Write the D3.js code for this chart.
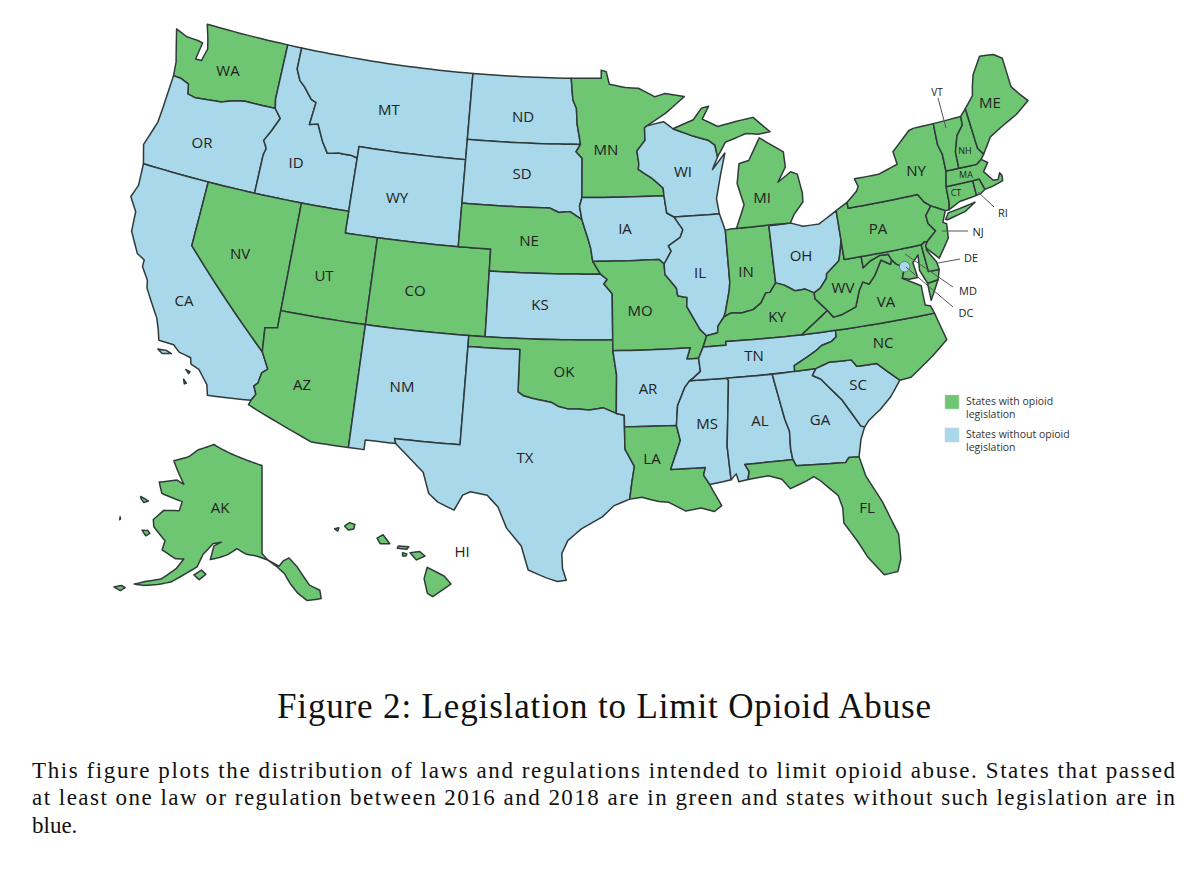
<!DOCTYPE html>
<html><head><meta charset="utf-8">
<script src="https://cdn.jsdelivr.net/npm/d3@7/dist/d3.min.js"></script>
<style>html,body{margin:0;padding:0;background:#fff}svg{display:block}</style></head>
<body><svg id="c" width="1200" height="875"></svg>
<script>
// Legislation status
const withLegislation=["WA","NV","UT","CO","AZ","NE","OK","MN","MO","LA","IN","KY","WV","VA","NC","PA","NY","VT","NH","ME","MA","CT","RI","NJ","DE","MD","MI","FL","AK","HI"];
const withoutLegislation=["OR","CA","ID","MT","WY","ND","SD","KS","NM","TX","IA","WI","IL","OH","AR","TN","MS","AL","GA","SC"];
const legendLabels=[["States with opioid","legislation"],["States without opioid","legislation"]];
const titleText="Figure 2: Legislation to Limit Opioid Abuse";
const captionLines=["This figure plots the distribution of laws and regulations intended to limit opioid abuse. States that passed","at least one law or regulation between 2016 and 2018 are in green and states without such legislation are in","blue."];
const dcLocation=[-77.03,38.9];

// Geographic outlines: longitude, latitude rings
const WA=[[[-124.0,46.27],[-124.1,46.9],[-124.4,47.6],[-124.73,48.38],[-123.9,48.17],[-123.1,48.15],[-122.75,48.1],[-122.9,47.3],[-122.5,47.3],[-122.3,47.9],[-122.5,48.4],[-122.8,49],[-117.04,49],[-117.04,46.42],[-116.92,46],[-118.98,46],[-119.6,45.92],[-120.5,45.7],[-121.2,45.65],[-122.2,45.57],[-122.75,45.65],[-122.9,46.1],[-123.5,46.25]]];
const OR=[[[-124.0,46.27],[-123.5,46.25],[-122.9,46.1],[-122.75,45.65],[-122.2,45.57],[-121.2,45.65],[-120.5,45.7],[-119.6,45.92],[-118.98,46],[-116.92,46],[-116.46,45.6],[-116.85,44.95],[-117.2,44.45],[-117.03,44.25],[-116.93,44.1],[-117.03,43.8],[-117.03,42],[-124.2,42],[-124.55,42.85],[-124.1,44],[-124.05,44.8]]];
const CA=[[[-124.2,42],[-120,42],[-120,39],[-114.63,35],[-114.14,34.27],[-114.43,34.05],[-114.53,33.55],[-114.72,33.4],[-114.52,33.03],[-114.72,32.72],[-117.12,32.53],[-117.28,33],[-117.9,33.6],[-118.4,33.75],[-118.5,34.03],[-119.2,34.15],[-119.6,34.42],[-120.47,34.45],[-120.65,34.9],[-120.9,35.4],[-121.9,36.6],[-122,36.95],[-122.5,37.5],[-122.5,37.8],[-123,38],[-123.7,38.9],[-123.8,39.8],[-124.35,40.4],[-124.1,41]],[[-120.4,34.05],[-119.9,34.08],[-119.6,34.0],[-120.1,33.9]],[[-118.6,33.45],[-118.35,33.4],[-118.4,33.3]],[[-118.6,33.0],[-118.4,32.85],[-118.5,32.8]]];
const ID=[[[-117.04,49],[-116.05,49],[-116.05,48],[-115.7,47.5],[-115.3,47.25],[-114.7,46.75],[-114.35,46.65],[-114.5,45.6],[-113.95,45.7],[-113.45,44.95],[-113,44.45],[-112.3,44.55],[-111.5,44.55],[-111.05,44.47],[-111.05,42],[-117.03,42],[-117.03,43.8],[-116.93,44.1],[-117.03,44.25],[-117.2,44.45],[-116.85,44.95],[-116.46,45.6],[-116.92,46],[-117.04,46.42]]];
const NV=[[[-120,42],[-114.04,42],[-114.04,36.2],[-114.75,36.1],[-114.63,35],[-120,39]]];
const MT=[[[-116.05,49],[-104.05,49],[-104.05,45],[-111.05,45],[-111.05,44.47],[-111.5,44.55],[-112.3,44.55],[-113,44.45],[-113.45,44.95],[-113.95,45.7],[-114.5,45.6],[-114.35,46.65],[-114.7,46.75],[-115.3,47.25],[-115.7,47.5],[-116.05,48]]];
const WY=[[[-111.05,45],[-104.05,45],[-104.05,41],[-111.05,41]]];
const UT=[[[-114.04,42],[-111.05,42],[-111.05,41],[-109.05,41],[-109.05,37],[-114.04,37]]];
const CO=[[[-109.05,41],[-102.05,41],[-102.05,37],[-109.05,37]]];
const AZ=[[[-114.04,37],[-109.05,37],[-109.05,31.33],[-111.07,31.33],[-114.81,32.5],[-114.72,32.72],[-114.52,33.03],[-114.72,33.4],[-114.53,33.55],[-114.43,34.05],[-114.14,34.27],[-114.63,35],[-114.75,36.1],[-114.04,36.2]]];
const NM=[[[-109.05,37],[-103,37],[-103.04,32],[-106.62,32],[-106.53,31.78],[-108.2,31.78],[-108.2,31.33],[-109.05,31.33]]];
const ND=[[[-104.05,49],[-97.23,49],[-97.1,48],[-96.85,47.6],[-96.8,46.9],[-96.56,45.94],[-104.05,45.94]]];
const SD=[[[-104.05,45.94],[-96.56,45.94],[-96.85,45.6],[-96.45,45.3],[-96.45,43.5],[-96.6,43.1],[-96.45,42.49],[-97.2,42.85],[-97.9,42.8],[-98.5,43],[-104.05,43]]];
const NE=[[[-104.05,43],[-98.5,43],[-97.9,42.8],[-97.2,42.85],[-96.45,42.49],[-96.1,41.7],[-95.9,41.2],[-95.77,40.58],[-95.3,40],[-102.05,40],[-102.05,41],[-104.05,41]]];
const KS=[[[-102.05,40],[-95.3,40],[-94.9,39.75],[-95.1,39.55],[-94.61,39.1],[-94.62,37],[-102.05,37]]];
const OK=[[[-103,37],[-94.62,37],[-94.62,36.5],[-94.43,35.4],[-94.48,33.64],[-95.2,33.9],[-96,33.8],[-96.6,33.85],[-97.2,33.85],[-97.7,33.95],[-98.1,34.13],[-99.2,34.3],[-99.7,34.4],[-100,34.56],[-100,36.5],[-103,36.5]]];
const TX=[[[-103,36.5],[-100,36.5],[-100,34.56],[-99.7,34.4],[-99.2,34.3],[-98.1,34.13],[-97.7,33.95],[-97.2,33.85],[-96.6,33.85],[-96,33.8],[-95.2,33.9],[-94.48,33.64],[-94.04,33.55],[-94.04,32],[-93.55,31.2],[-93.7,30.5],[-93.84,29.7],[-94.7,29.4],[-95.3,28.9],[-96.4,28.35],[-97.1,27.8],[-97.4,27.2],[-97.35,26.5],[-97.15,25.97],[-97.6,25.9],[-98.2,26.07],[-99.1,26.4],[-99.5,27.5],[-100.3,28.3],[-100.8,29.25],[-101.4,29.77],[-102.3,29.88],[-102.7,29.7],[-103.1,28.98],[-104,29.3],[-104.5,29.65],[-104.9,30.6],[-106,31.4],[-106.53,31.78],[-106.62,32],[-103.04,32]]];
const MN=[[[-97.23,49],[-95.15,49],[-95.15,49.38],[-94.8,49.3],[-94.6,48.72],[-93.5,48.55],[-92.6,48.5],[-91.5,48.07],[-90.8,48.2],[-89.5,48],[-90.8,47.3],[-92.1,46.75],[-92.29,46.66],[-92.29,46.08],[-92.85,45.6],[-92.75,45],[-92.8,44.75],[-91.9,44.3],[-91.25,43.85],[-91.22,43.5],[-96.45,43.5],[-96.45,45.3],[-96.85,45.6],[-96.56,45.94],[-96.8,46.9],[-96.85,47.6],[-97.1,48]]];
const IA=[[[-96.45,43.5],[-91.22,43.5],[-91.1,42.7],[-90.65,42.5],[-90.15,41.9],[-90.35,41.55],[-91.1,41.2],[-90.95,40.95],[-91.42,40.38],[-91.73,40.6],[-95.77,40.58],[-95.9,41.2],[-96.1,41.7],[-96.45,42.49],[-96.6,43.1]]];
const MO=[[[-95.77,40.58],[-91.73,40.6],[-91.42,40.38],[-91.4,39.9],[-90.75,39.25],[-90.7,38.9],[-90.15,38.8],[-90.2,38.4],[-89.5,37.3],[-89.15,37],[-89.4,36.5],[-89.7,36],[-90.38,36],[-90.15,36.5],[-94.62,36.5],[-94.62,37],[-94.61,39.1],[-95.1,39.55],[-94.9,39.75],[-95.3,40]]];
const AR=[[[-94.62,36.5],[-90.15,36.5],[-90.38,36],[-89.7,36],[-89.65,35.4],[-90.1,35.1],[-90.3,35],[-90.6,34.7],[-91.05,33.9],[-91.17,33],[-94.04,33.02],[-94.04,33.55],[-94.48,33.64],[-94.43,35.4]]];
const LA=[[[-94.04,33.02],[-91.17,33],[-91,32.3],[-91.6,31],[-89.73,31],[-89.85,30.65],[-89.55,30.2],[-89.4,29.9],[-89.0,29.2],[-89.4,28.95],[-90.1,29.15],[-90.9,29.05],[-91.8,29.5],[-92.3,29.55],[-93.2,29.77],[-93.84,29.7],[-93.7,30.5],[-93.55,31.2],[-94.04,32]]];
const MS=[[[-90.3,35],[-88.2,35],[-88.1,34.9],[-88.47,31.9],[-88.4,30.35],[-89.55,30.2],[-89.85,30.65],[-89.73,31],[-91.6,31],[-91,32.3],[-91.17,33],[-91.05,33.9],[-90.6,34.7]]];
const WI=[[[-92.1,46.75],[-91,46.9],[-90.4,46.55],[-89.1,46.15],[-88.1,45.9],[-87.7,45.65],[-87.6,45.1],[-88,44.55],[-87.1,45.25],[-87.5,44.3],[-87.9,43.2],[-87.8,42.5],[-90.65,42.5],[-91.1,42.7],[-91.22,43.5],[-91.25,43.85],[-91.9,44.3],[-92.8,44.75],[-92.75,45],[-92.85,45.6],[-92.29,46.08],[-92.29,46.66]]];
const IL=[[[-90.65,42.5],[-87.8,42.5],[-87.52,41.72],[-87.53,39.35],[-87.6,39],[-87.95,38],[-88.05,37.8],[-88.45,37.4],[-88.5,37.1],[-89.15,37],[-89.5,37.3],[-90.2,38.4],[-90.15,38.8],[-90.7,38.9],[-90.75,39.25],[-91.4,39.9],[-91.42,40.38],[-90.95,40.95],[-91.1,41.2],[-90.35,41.55],[-90.15,41.9]]];
const IN=[[[-87.52,41.72],[-87.2,41.76],[-84.8,41.76],[-84.8,39.1],[-85.2,38.7],[-85.45,38.7],[-85.8,38.27],[-86.3,38],[-87,37.9],[-87.6,37.95],[-88.05,37.8],[-87.95,38],[-87.6,39],[-87.53,39.35]]];
const OH=[[[-84.8,41.72],[-83.45,41.73],[-82.7,41.5],[-81.7,41.5],[-80.52,41.98],[-80.52,40.64],[-80.65,40.2],[-80.85,39.7],[-81.7,39.2],[-81.75,39],[-82.2,38.6],[-82.6,38.42],[-83.1,38.65],[-83.7,38.63],[-84.3,38.95],[-84.8,39.1]]];
const MI=[[[-86.82,41.76],[-84.8,41.76],[-83.45,41.73],[-83.15,42.1],[-82.5,42.6],[-82.45,43],[-82.6,43.9],[-83,44.05],[-83.9,43.65],[-83.3,44.3],[-83.3,45],[-84.75,45.78],[-85.6,44.8],[-86.25,44.7],[-86.5,43.8],[-86.2,42.8]],[[-90.4,46.55],[-89,46.9],[-88.4,47.4],[-87.9,47.47],[-88.4,46.9],[-87.4,46.5],[-86.2,46.65],[-85,46.75],[-84.6,46.45],[-84,46],[-84.8,45.95],[-85.6,46.05],[-86.5,45.85],[-87,45.75],[-87.6,45.1],[-87.7,45.65],[-88.1,45.9],[-89.1,46.15]]];
const KY=[[[-89.4,36.5],[-89.15,37],[-88.5,37.1],[-88.45,37.4],[-88.05,37.8],[-87.6,37.95],[-87,37.9],[-86.3,38],[-85.8,38.27],[-85.45,38.7],[-85.2,38.7],[-84.8,39.1],[-84.3,38.95],[-83.7,38.63],[-83.1,38.65],[-82.6,38.42],[-82.6,38.15],[-81.97,37.54],[-83.67,36.6],[-88.07,36.67],[-88.07,36.5]]];
const TN=[[[-89.4,36.5],[-88.07,36.5],[-88.07,36.67],[-83.67,36.6],[-81.68,36.59],[-81.7,36.3],[-82,36.12],[-82.6,36],[-83,35.78],[-84.3,35.25],[-84.32,34.99],[-88.2,35],[-90.3,35],[-90.1,35.1],[-89.65,35.4],[-89.7,36]]];
const AL=[[[-88.2,35],[-85.6,34.98],[-85.18,32.87],[-85,32.3],[-85.05,31.5],[-85,31],[-87.6,31],[-87.4,30.65],[-87.5,30.3],[-88,30.23],[-88.1,30.6],[-88.4,30.35],[-88.47,31.9],[-88.1,34.9]]];
const GA=[[[-85.6,34.98],[-83.1,35],[-83.35,34.7],[-82.9,34.48],[-81.9,33.4],[-81.4,32.6],[-81.1,32.1],[-80.9,32.03],[-81.2,31.5],[-81.45,30.72],[-82,30.75],[-82.2,30.55],[-84.86,30.7],[-85,31],[-85.05,31.5],[-85,32.3],[-85.18,32.87]]];
const FL=[[[-87.6,31],[-85,31],[-84.86,30.7],[-82.2,30.55],[-82,30.75],[-81.45,30.72],[-81.25,29.8],[-80.6,28.5],[-80.05,26.9],[-80.15,25.75],[-80.4,25.2],[-81.1,25.15],[-81.8,26.1],[-82.2,26.9],[-82.75,27.8],[-82.7,28.5],[-82.85,29.1],[-83.7,29.9],[-84,30.1],[-84.4,29.95],[-85.3,29.68],[-85.7,30.15],[-86.4,30.38],[-87.5,30.3],[-87.4,30.65]]];
const SC=[[[-83.1,35],[-82.3,35.2],[-81.05,35.15],[-80.8,34.82],[-79.67,34.8],[-78.55,33.86],[-79.2,33.2],[-79.9,32.7],[-80.6,32.3],[-80.9,32.03],[-81.1,32.1],[-81.4,32.6],[-81.9,33.4],[-82.9,34.48],[-83.35,34.7]]];
const NC=[[[-84.32,34.99],[-84.3,35.25],[-83,35.78],[-82.6,36],[-82,36.12],[-81.7,36.3],[-81.68,36.59],[-75.87,36.55],[-75.5,35.25],[-76.5,34.65],[-77.9,33.9],[-78.55,33.86],[-79.67,34.8],[-80.8,34.82],[-81.05,35.15],[-82.3,35.2],[-83.1,35]]];
const VA=[[[-83.67,36.6],[-81.97,37.54],[-81.68,37.2],[-81.2,37.25],[-80.3,37.5],[-79.95,38.2],[-79.65,38.57],[-79.3,38.42],[-78.87,38.77],[-78.35,39.4],[-77.83,39.13],[-77.72,39.32],[-77.5,39.1],[-77.05,38.85],[-77.3,38.4],[-76.3,37.9],[-76.3,37],[-76,36.9],[-75.87,36.55],[-81.68,36.59]],[[-75.9,37.95],[-75.25,38],[-75.9,37.15]]];
const WV=[[[-80.52,40.64],[-80.52,39.72],[-79.48,39.72],[-79.48,39.2],[-79,39.45],[-78.4,39.62],[-77.85,39.6],[-77.72,39.32],[-77.83,39.13],[-78.35,39.4],[-78.87,38.77],[-79.3,38.42],[-79.65,38.57],[-79.95,38.2],[-80.3,37.5],[-81.2,37.25],[-81.68,37.2],[-81.97,37.54],[-82.6,38.15],[-82.6,38.42],[-82.2,38.6],[-81.75,39],[-81.7,39.2],[-80.85,39.7],[-80.65,40.2]]];
const MD=[[[-79.48,39.72],[-75.79,39.72],[-75.7,38.46],[-75.05,38.45],[-75.25,38],[-75.9,37.95],[-76.2,38.6],[-76.1,39.3],[-76.5,39],[-76.4,38.3],[-76.9,38.3],[-77.3,38.4],[-77.05,38.85],[-77.5,39.1],[-77.72,39.32],[-77.85,39.6],[-78.4,39.62],[-79,39.45],[-79.48,39.2]]];
const DE=[[[-75.79,39.72],[-75.55,39.83],[-75.4,39.8],[-75.55,39.45],[-75.1,38.8],[-75.05,38.45],[-75.7,38.46]]];
const PA=[[[-80.52,41.98],[-79.76,42.27],[-79.76,42],[-75.35,42],[-75.05,41.6],[-74.7,41.36],[-75.13,40.98],[-75.1,40.6],[-74.75,40.2],[-75.4,39.8],[-75.55,39.83],[-75.79,39.72],[-80.52,39.72],[-80.52,40.64]]];
const NY=[[[-79.76,42.27],[-79.05,42.7],[-78.9,42.9],[-79.05,43.27],[-77.5,43.27],[-76.2,43.55],[-76.3,44.15],[-75,44.95],[-74.7,45],[-73.35,45],[-73.4,44],[-73.25,43.55],[-73.28,42.75],[-73.5,42.05],[-73.55,41.3],[-73.65,41],[-73.9,41],[-74.7,41.36],[-75.05,41.6],[-75.35,42],[-79.76,42]],[[-74,40.6],[-73.75,40.87],[-72.6,40.98],[-72,41.05],[-72.7,40.75],[-73.9,40.57]]];
const NJ=[[[-74.7,41.36],[-73.9,41],[-74.2,40.5],[-74,40.4],[-74.1,39.75],[-74.9,38.95],[-75.5,39.5],[-75.55,39.62],[-75.4,39.8],[-74.75,40.2],[-75.1,40.6],[-75.13,40.98]]];
const CT=[[[-73.5,42.05],[-71.8,42.02],[-71.8,41.33],[-72.9,41.25],[-73.65,41],[-73.55,41.3]]];
const RI=[[[-71.8,42.02],[-71.38,42.02],[-71.2,41.5],[-71.5,41.37],[-71.8,41.33]]];
const MA=[[[-73.5,42.05],[-73.28,42.75],[-71.3,42.7],[-70.95,42.87],[-70.6,42.65],[-71,42.3],[-70.55,41.8],[-70.25,41.78],[-70.05,42.05],[-69.95,41.9],[-70,41.67],[-70.65,41.55],[-71.2,41.5],[-71.38,42.02],[-71.8,42.02]]];
const VT=[[[-73.35,45],[-71.5,45.01],[-71.55,44.6],[-72.05,44.2],[-72.4,43.5],[-72.45,42.73],[-73.28,42.75],[-73.25,43.55],[-73.4,44]]];
const NH=[[[-71.5,45.01],[-71.08,45.3],[-70.98,43.4],[-70.7,43.07],[-70.95,42.87],[-71.3,42.7],[-72.45,42.73],[-72.4,43.5],[-72.05,44.2],[-71.55,44.6]]];
const ME=[[[-71.08,45.3],[-70.4,45.8],[-70.25,46.2],[-70,46.7],[-69.23,47.46],[-68.3,47.35],[-67.8,47.07],[-67.8,45.7],[-67.45,45.3],[-67,44.85],[-68,44.4],[-69,44.1],[-70,43.75],[-70.7,43.07],[-70.98,43.4]]];
const AK=[[[-141,69.65],[-141,60.3],[-139.8,59.6],[-137.5,58.9],[-136.5,59.45],[-135.3,59.7],[-133.8,58.7],[-131.8,56.6],[-130,55.9],[-130,55],[-131.5,55],[-132.6,55],[-134.2,55.9],[-135.5,57],[-136.5,58.1],[-138,58.9],[-139.8,59.6],[-142,60],[-144.5,60.2],[-146.5,60.7],[-148.2,60],[-149.8,59.6],[-151.8,59.2],[-151.5,60.7],[-150,61.2],[-151.8,60.9],[-153.5,59.6],[-154.2,58.2],[-156.6,57],[-158.5,56],[-161,55.3],[-163.2,54.8],[-164.9,54.6],[-163,55.3],[-160.5,56],[-158.2,57.5],[-157.2,58.7],[-158.8,58.5],[-162,59],[-162,60],[-165.3,61],[-166,61.7],[-164.5,63],[-161,63.5],[-161,64.5],[-166.4,64.6],[-168.1,65.6],[-164,66.5],[-161.9,66.3],[-166.7,68.3],[-163,69.3],[-161,70.3],[-156.7,71.3],[-152,70.8],[-146,70.2]],[[-170.8,63.4],[-169.5,63.35],[-168.7,63.3],[-169.5,62.95],[-170.5,63.2]],[[-167.4,60.2],[-166.2,60.4],[-165.6,60.2],[-166.2,59.8]],[[-172.9,60.5],[-172.6,60.3],[-172.7,60.2]],[[-154.5,57.3],[-153.2,57.95],[-152.2,57.6],[-153.3,56.9]],[[-168.1,53.5],[-167,53.95],[-166.2,53.9],[-166.8,53.4]]];
const HI=[[[-155.9,20.25],[-155.1,19.85],[-154.8,19.5],[-155.65,18.95],[-155.9,19.1],[-156.05,19.75]],[[-156.7,20.9],[-156.25,20.95],[-156,20.75],[-156.4,20.58]],[[-157.25,21.2],[-156.75,21.17],[-156.85,21.05],[-157.3,21.1]],[[-157.05,20.9],[-156.85,20.85],[-156.9,20.75],[-157.05,20.75]],[[-158.25,21.55],[-157.97,21.7],[-157.65,21.3],[-158.1,21.3]],[[-159.78,22.07],[-159.55,22.23],[-159.3,22.15],[-159.35,21.95],[-159.6,21.9]],[[-160.25,21.95],[-160.05,22],[-160.1,21.85]]];
const outlines={WA,OR,CA,ID,NV,MT,WY,UT,CO,AZ,NM,ND,SD,NE,KS,OK,TX,MN,IA,MO,AR,LA,MS,WI,IL,IN,OH,MI,KY,TN,AL,GA,FL,SC,NC,VA,WV,MD,DE,PA,NY,NJ,CT,RI,MA,VT,NH,ME,AK,HI};

const GREEN="#6fc672",BLUE="#a9d8ea",INK="#2f3a3a";
const colour=d3.scaleOrdinal().domain(withLegislation).range(withLegislation.map(()=>GREEN)).unknown(BLUE);

const lower48=d3.geoAlbers().parallels([29.5,45.5]).rotate([96,0]).center([0,37.5]).scale(1245).translate([589,329]);
const alaska=d3.geoConicEqualArea().parallels([55,65]).rotate([141,0]).center([0,65]).scale(540).translate([262,509]);
const hawaii=d3.geoConicEqualArea().parallels([8,18]).rotate([157.5,0]).center([0,20.8]).scale(1300).translate([393,555]);
const projectionFor=k=>k==="AK"?alaska:k==="HI"?hawaii:lower48;

function densify(ring){
  const out=[];
  ring.forEach((p,i)=>{
    const q=ring[(i+1)%ring.length],n=Math.ceil(Math.max(Math.abs(q[0]-p[0]),Math.abs(q[1]-p[1]))/0.5);
    for(let j=0;j<n;j++)out.push([p[0]+(q[0]-p[0])*j/n,p[1]+(q[1]-p[1])*j/n]);
  });
  out.push(out[0].slice());
  return out;
}
function feature(k){
  const polys=outlines[k].map(r=>{
    let ring=densify(r);
    if(d3.geoArea({type:"Polygon",coordinates:[ring]})>2*Math.PI)ring=ring.slice().reverse();
    return [ring];
  });
  return {type:"Feature",id:k,geometry:{type:"MultiPolygon",coordinates:polys}};
}

const svg=d3.select("#c");
svg.append("g").selectAll("path").data(Object.keys(outlines).map(feature)).join("path")
  .attr("d",d=>d3.geoPath(projectionFor(d.id))(d))
  .attr("fill",d=>colour(d.id)).attr("stroke",INK).attr("stroke-width",1.5).attr("stroke-linejoin","round");

const dc=lower48(dcLocation);
svg.append("circle").attr("cx",dc[0]).attr("cy",dc[1]).attr("r",5.2).attr("fill",BLUE).attr("stroke","#555").attr("stroke-width",.6);

// Leader lines and state abbreviations (layout, in page pixels)
const leaders=[[938,98,946,128],[978,192,994,207],[942,231,968,231],[938,263,960,259],[905,254,953,287],[906,267,953,307]];
svg.append("g").selectAll("line").data(leaders).join("line")
  .attr("x1",d=>d[0]).attr("y1",d=>d[1]).attr("x2",d=>d[2]).attr("y2",d=>d[3]).attr("stroke","#555").attr("stroke-width",1);
const bigLabels=[["WA",228,70],["OR",202,142],["CA",184,300],["ID",296,162],["NV",240,253],["UT",324,275],["AZ",302,384],["MT",389,109],["WY",397,197],["CO",415,290],["NM",402,386],["ND",523,116],["SD",522,173],["NE",529,240],["KS",540,304],["OK",564,371],["TX",525,457],["MN",606,149],["IA",625,228],["MO",640,310],["AR",648,388],["LA",652,458],["WI",683,171],["IL",700,272],["MS",707,423],["MI",762,197],["IN",746,271],["OH",801,255],["KY",777,316],["TN",754,355],["AL",760,420],["GA",820,419],["FL",867,507],["SC",858,384],["NC",883,342],["VA",886,301],["WV",843,287],["PA",878,228],["NY",916,170],["ME",990,102],["AK",220,507],["HI",462,551]];
const smallLabels=[["NH",965,150,9],["MA",966,174,9],["CT",956,192,9],["VT",937,92,10],["RI",1003,212,11],["NJ",978,231,11],["DE",971,257,11],["MD",968,290,11],["DC",966,312,11]];
svg.append("g").attr("font-family","'Open Sans'").attr("fill","#222").attr("text-anchor","middle").attr("dominant-baseline","central")
  .selectAll("text").data(bigLabels.map(d=>[...d,15]).concat(smallLabels)).join("text")
  .attr("x",d=>d[1]).attr("y",d=>d[2]).attr("font-size",d=>d[3]).text(d=>d[0]);

// Legend
const legendY=[402,435];
legendLabels.forEach((l,i)=>{
  svg.append("rect").attr("x",945).attr("y",legendY[i]-7).attr("width",14).attr("height",14).attr("fill",i?BLUE:GREEN).attr("stroke","#ccc").attr("stroke-width",.5);
  l.forEach((t,j)=>svg.append("text").attr("x",966).attr("y",legendY[i]+3+j*12.5).attr("font-family","'Open Sans'").attr("font-size",10.5).attr("fill","#333").text(t));
});

// Title and caption
svg.append("text").attr("x",277).attr("y",718).attr("font-family","'Liberation Serif'").attr("font-size",35).attr("fill","#111")
  .attr("textLength",654).attr("lengthAdjust","spacing").text(titleText);
const capY=[778,805,833];
captionLines.forEach((t,i)=>{
  const s=svg.append("text").attr("x",32).attr("y",capY[i]).attr("font-family","'Liberation Serif'").attr("font-size",23).attr("fill","#111").text(t);
  if(i<2)s.attr("textLength",1143).attr("lengthAdjust","spacing");
});
</script></body></html>
